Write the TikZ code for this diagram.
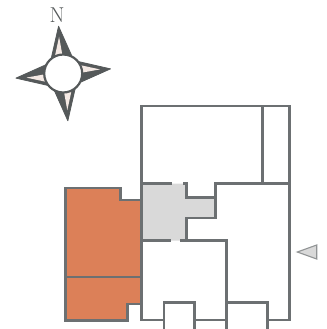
\documentclass[tikz,border=0pt]{standalone}
\usepackage{tikz}
\definecolor{wallgrey}{HTML}{6C7072}
\definecolor{stargrey}{HTML}{55595A}
\definecolor{terrace}{HTML}{DC8058}
\definecolor{hall}{HTML}{D9D9D9}
\definecolor{starlight}{HTML}{F4E9E4}

\begin{document}
\begin{tikzpicture}[x=1bp, y=-1bp]
				\tikzstyle{wall} = [draw=wallgrey, line width=2.5bp, line join=miter]
				\tikzstyle{arm} = [fill=stargrey, draw=stargrey, line width=0.8bp, line join=round]
				\tikzstyle{pointer} = [fill=hall, draw=wallgrey!75, line width=1.1bp]
				
				\useasboundingbox (0, 0) rectangle (327, 329);
				
				% filled areas
				\fill[terrace] (65.7, 188) -- (120.7, 188) -- (120.7, 200) -- (141.7, 200) -- (141.7, 304) -- (127.7, 304) -- (127.7, 320.5) -- (65.7, 320.5) -- cycle;
				\fill[hall] (141.7, 183.7) -- (186.7, 183.7) -- (186.7, 197.7) -- (215.7, 197.7) -- (215.7, 218) -- (186.7, 218) -- (186.7, 240.7) -- (141.7, 240.7) -- cycle;
				
				% terrace outline
				\draw[wall] (141.7, 200) -- (120.7, 200) -- (120.7, 188) -- (65.7, 188) -- (65.7, 320.5) -- (127.7, 320.5) -- (127.7, 304) -- (141.7, 304);
				\draw[wall] (65.7, 277) -- (141.7, 277);
				
				% rooms
				\draw[wall] (164, 320) -- (141.7, 320) -- (141.7, 106) -- (289.7, 106) -- (289.7, 320) -- (267.3, 320);
				\draw[wall] (262.3, 106) -- (262.3, 183.7);
				\draw[wall] (141.7, 183.7) -- (172, 183.7);
				\draw[wall] (183, 183.7) -- (186.7, 183.7) -- (186.7, 197.7) -- (215.7, 197.7) -- (215.7, 183.7) -- (289.7, 183.7);
				\draw[wall] (215.7, 197.7) -- (215.7, 218) -- (186.7, 218) -- (186.7, 240.7);
				\draw[wall] (141.7, 240.7) -- (171, 240.7);
				\draw[wall] (180, 240.7) -- (226.3, 240.7) -- (226.3, 329);
				\draw[wall] (194.3, 320) -- (226.3, 320);
				\draw[wall] (164, 329) -- (164, 302.3) -- (194.3, 302.3) -- (194.3, 329);
				\draw[wall] (226.3, 302.3) -- (267.3, 302.3) -- (267.3, 329);
				
				% view pointer
				\draw[pointer] (297.3, 252) -- (316.7, 245) -- (316.7, 259) -- cycle;
				
				% compass
				\foreach \ang in {0, 90, 180, 270} {
					\begin{scope}[shift={(63.2, 73.5)}, rotate=\ang+5.6]
						\draw[arm] (0, -47.5) -- (-12.5, -10) -- (12.5, -10) -- cycle;
						\fill[starlight] (-0.5, -37) -- (-8.5, -12) -- (1.5, -12) -- cycle;
					\end{scope}
				}
				\draw[stargrey, fill=white, line width=2.2bp] (63.2, 73.5) circle (19);
				\node[text=stargrey, font=\LARGE, scale=1.25, inner sep=0pt] at (57, 15) (north) {N};
\end{tikzpicture}
\end{document}
